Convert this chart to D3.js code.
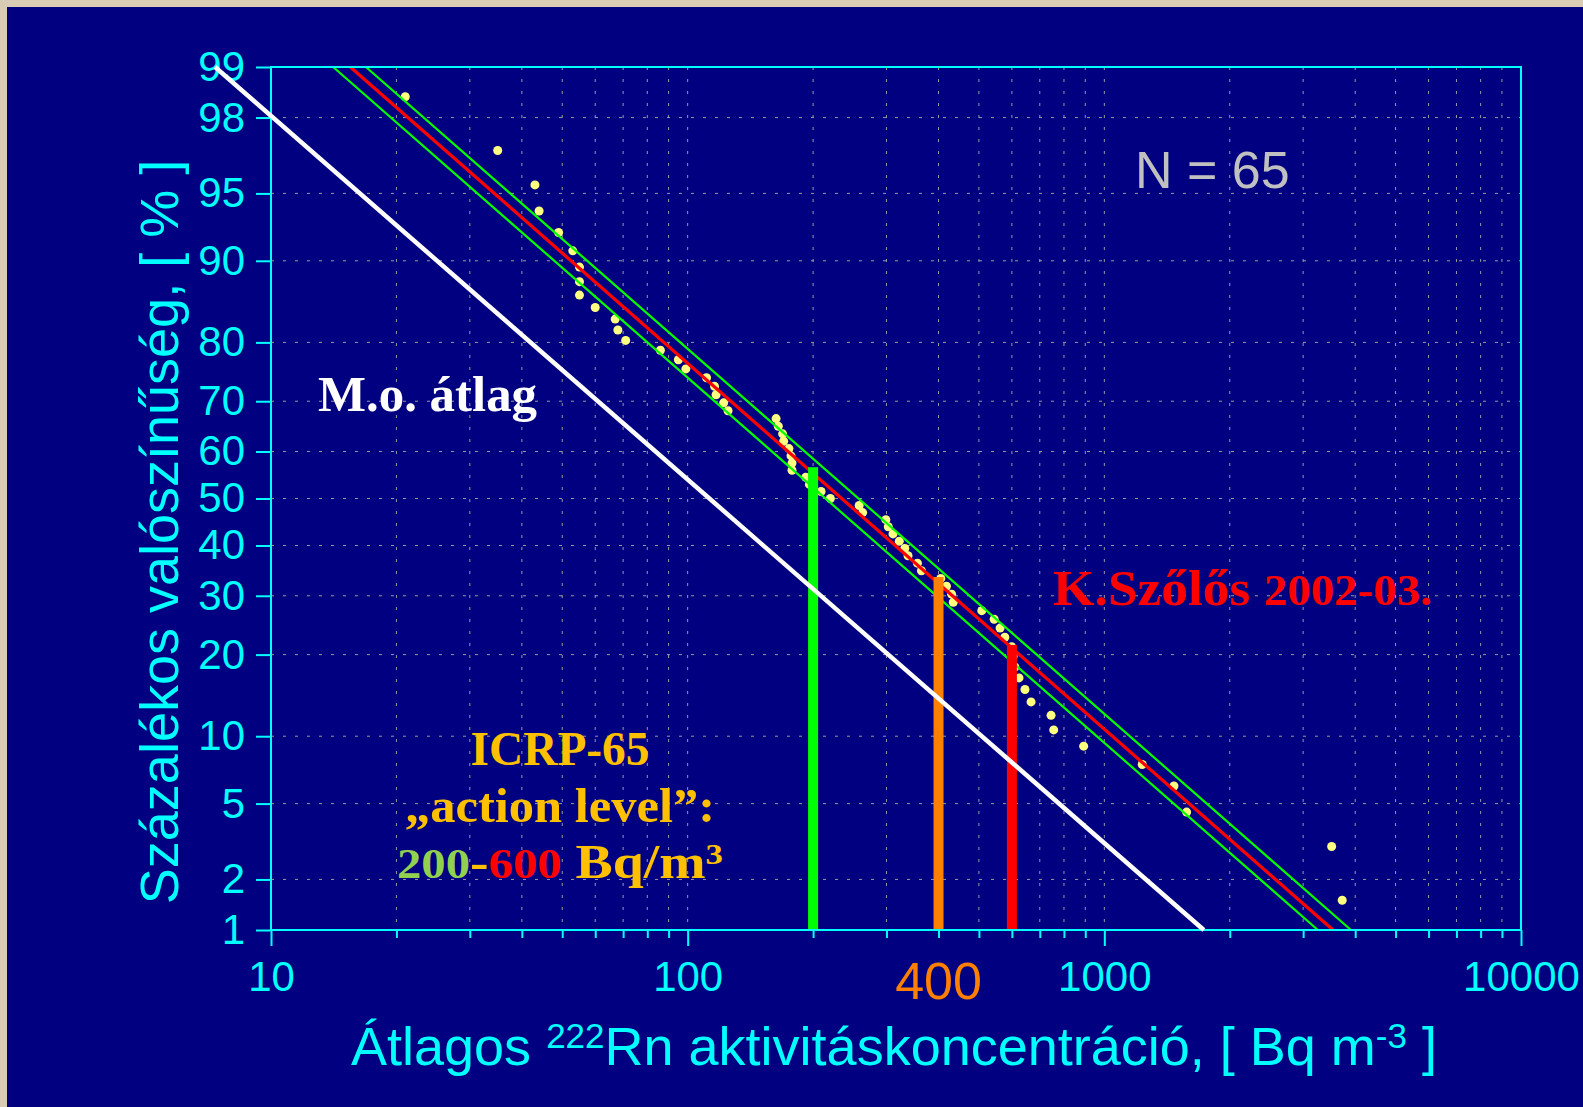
<!DOCTYPE html>
<html>
<head>
<meta charset="utf-8">
<script src="https://cdn.jsdelivr.net/npm/d3@7"></script>
<style>
  body { margin: 0; background: #d8cdb4; }
  svg { display: block; }
</style>
</head>
<body>
<svg id="chart" width="1583" height="1107"></svg>
<script>
// radon concentrations of the 65 homes, Bq/m3, sorted ascending
const radon = [21, 35, 43, 44, 49, 53, 55, 55, 55, 60, 67, 68, 71, 86, 95, 99,
  111, 116, 117, 122, 125, 163, 165, 169, 170, 175, 177, 178, 178, 192, 196,
  209, 220, 258, 263, 299, 303, 311, 322, 332, 338, 356, 364, 405, 418, 430,
  434, 508, 544, 562, 577, 599, 604, 610, 624, 645, 667, 745, 756, 892, 1233,
  1469, 1576, 3512, 3723]

// fitted lognormal lines, [concentration, percent]
const fitLine = [[15.5, 99], [3540, 1]]
const ciLow = [[14.1, 99], [3255, 1]]
const ciHigh = [[16.9, 99], [3908, 1]]
const national = [[7.34, 99], [1733, 1]]   // M.o. átlag

// ICRP-65 action levels and where the bars stop
const levels = [200, 400, 600]
const levelTops = [56.7, 33.6, 21.5]
const levelColors = ["#00ff00", "#ff8000", "#ff0000"]

const yTicks = [1, 2, 5, 10, 20, 30, 40, 50, 60, 70, 80, 90, 95, 98, 99]
const xMajor = [10, 100, 1000, 10000]
const xMinor = [20, 30, 40, 50, 60, 70, 80, 90, 200, 300, 400, 500, 600, 700, 800, 900,
  2000, 3000, 4000, 5000, 6000, 7000, 8000, 9000]

// inverse normal cdf (Acklam)
function probit(p) {
  const a = [-39.69683028665376, 220.9460984245205, -275.9285104469687, 138.3577518672690, -30.66479806614716, 2.506628277459239]
  const b = [-54.47609879822406, 161.5858368580409, -155.6989798598866, 66.80131188771972, -13.28068155288572]
  const c = [-0.007784894002430293, -0.3223964580411365, -2.400758277161838, -2.549732539343734, 4.374664141464968, 2.938163982698783]
  const d = [0.007784695709041462, 0.3224671290700398, 2.445134137142996, 3.754408661907416]
  const pl = 0.02425
  let q, r
  if (p < pl) {
    q = Math.sqrt(-2 * Math.log(p))
    return (((((c[0]*q+c[1])*q+c[2])*q+c[3])*q+c[4])*q+c[5]) / ((((d[0]*q+d[1])*q+d[2])*q+d[3])*q+1)
  }
  if (p > 1 - pl) {
    q = Math.sqrt(-2 * Math.log(1 - p))
    return -(((((c[0]*q+c[1])*q+c[2])*q+c[3])*q+c[4])*q+c[5]) / ((((d[0]*q+d[1])*q+d[2])*q+d[3])*q+1)
  }
  q = p - 0.5
  r = q * q
  return (((((a[0]*r+a[1])*r+a[2])*r+a[3])*r+a[4])*r+a[5])*q / (((((b[0]*r+b[1])*r+b[2])*r+b[3])*r+b[4])*r+1)
}

const plotLeft = 271, plotRight = 1521, plotTop = 67, plotBottom = 930
const CYAN = "#00ffff"
const SANS = "'Liberation Sans', Arial, sans-serif"
const SERIF = "'Liberation Serif', 'Times New Roman', serif"

const svg = d3.select("#chart")

svg.append("rect").attr("x", 7).attr("y", 7).attr("width", 1583).attr("height", 1107).attr("fill", "#000080")

const x = d3.scaleLog().domain([10, 10000]).range([plotLeft, plotRight])
const yz = d3.scaleLinear().domain([probit(0.01), probit(0.99)]).range([plotBottom, plotTop])
const y = p => yz(probit(p / 100))

// grid
const grid = svg.append("g").attr("stroke", "#9a9aa6").attr("stroke-width", 1).attr("stroke-dasharray", "3,9")
grid.selectAll(".gx")
    .data(xMinor.concat([100, 1000]))
    .enter()
    .append("line")
        .attr("x1", d => x(d)).attr("x2", d => x(d))
        .attr("y1", plotTop).attr("y2", plotBottom)
grid.selectAll(".gy")
    .data(yTicks.slice(1, -1))
    .enter()
    .append("line")
        .attr("x1", plotLeft).attr("x2", plotRight)
        .attr("y1", d => y(d)).attr("y2", d => y(d))

// measured points, Weibull plotting position k/(n+1), exceedance
const n = radon.length
svg.append("g")
    .selectAll("circle")
    .data(radon)
    .enter()
    .append("circle")
        .attr("cx", d => x(d))
        .attr("cy", (d, i) => y((n - i) / (n + 1) * 100))
        .attr("r", 4.5)
        .attr("fill", "#ffff80")

const line = d3.line().x(d => x(d[0])).y(d => y(d[1]))

svg.append("path").datum(ciLow).attr("d", line).attr("stroke", "#00ff00").attr("stroke-width", 2.2).attr("fill", "none")
svg.append("path").datum(ciHigh).attr("d", line).attr("stroke", "#00ff00").attr("stroke-width", 2.2).attr("fill", "none")
svg.append("path").datum(fitLine).attr("d", line).attr("stroke", "#ff0000").attr("stroke-width", 3.2).attr("fill", "none")

// action level bars
svg.append("g")
    .selectAll("rect")
    .data(levels)
    .enter()
    .append("rect")
        .attr("x", d => x(d) - 5)
        .attr("width", 10)
        .attr("y", (d, i) => y(levelTops[i]))
        .attr("height", (d, i) => plotBottom - y(levelTops[i]))
        .attr("fill", (d, i) => levelColors[i])

// axes
const yAxis = d3.axisLeft(yz)
    .tickValues(yTicks.map(p => probit(p / 100)))
    .tickFormat((d, i) => yTicks[i])
    .tickSize(15)
    .tickPadding(11)
const gy = svg.append("g").attr("transform", `translate(${plotLeft},0)`).call(yAxis)

const gxMinor = svg.append("g").attr("transform", `translate(0,${plotBottom})`)
    .call(d3.axisBottom(x).tickValues(xMinor).tickSize(8).tickFormat(""))
const gxMajor = svg.append("g").attr("transform", `translate(0,${plotBottom})`)
    .call(d3.axisBottom(x).tickValues(xMajor).tickSize(16).tickPadding(15).tickFormat(d3.format("d")))

for (const g of [gy, gxMinor, gxMajor]) {
    g.select(".domain").remove()
    g.selectAll(".tick line").attr("stroke", CYAN).attr("stroke-width", 2)
    g.selectAll(".tick text").attr("fill", CYAN).style("font-family", SANS).style("font-size", "42px")
}

svg.append("rect")
    .attr("x", plotLeft).attr("y", plotTop)
    .attr("width", plotRight - plotLeft).attr("height", plotBottom - plotTop)
    .attr("fill", "none").attr("stroke", CYAN).attr("stroke-width", 2)

// axis titles
svg.append("text")
    .attr("transform", "translate(178,532) rotate(-90)")
    .attr("text-anchor", "middle")
    .attr("fill", CYAN).style("font-family", SANS).style("font-size", "54px")
    .text("Százalékos valószínűség, [ % ]")

const xt = svg.append("text")
    .attr("x", 894).attr("y", 1065)
    .attr("text-anchor", "middle")
    .attr("fill", CYAN).style("font-family", SANS).style("font-size", "54px")
xt.append("tspan").text("Átlagos ")
xt.append("tspan").attr("dy", -17).style("font-size", "35px").text("222")
xt.append("tspan").attr("dy", 17).text("Rn aktivitáskoncentráció, [ Bq m")
xt.append("tspan").attr("dy", -17).style("font-size", "35px").text("-3")
xt.append("tspan").attr("dy", 17).text(" ]")

svg.append("text")
    .attr("x", x(400)).attr("y", 999)
    .attr("text-anchor", "middle")
    .attr("fill", "#ff8000").style("font-family", SANS).style("font-size", "52px")
    .text("400")

svg.append("text")
    .attr("x", 1135).attr("y", 188)
    .attr("fill", "#c0c0c0").style("font-family", SANS).style("font-size", "52px")
    .text("N = 65")

svg.append("text")
    .attr("x", 318).attr("y", 411)
    .attr("textLength", 219).attr("lengthAdjust", "spacingAndGlyphs")
    .attr("fill", "#ffffff").style("font-family", SERIF).style("font-weight", "bold").style("font-size", "50px")
    .text("M.o. átlag")

const ks = svg.append("text")
    .attr("x", 1053).attr("y", 605)
    .attr("textLength", 379).attr("lengthAdjust", "spacingAndGlyphs")
    .attr("fill", "#ff0000").style("font-family", SERIF).style("font-weight", "bold").style("font-size", "50px")
ks.append("tspan").text("K.Szőlős ")
ks.append("tspan").style("font-size", "44px").text("2002-03.")

const icrp = [["ICRP-65", 765, 179], ["„action level”:", 822, 310]]
icrp.forEach(([t, yy, w]) => {
    svg.append("text")
        .attr("x", 560).attr("y", yy)
        .attr("text-anchor", "middle")
        .attr("textLength", w).attr("lengthAdjust", "spacingAndGlyphs")
        .attr("fill", "#ffc000").style("font-family", SERIF).style("font-weight", "bold").style("font-size", "48px")
        .text(t)
})
const lv = svg.append("text")
    .attr("x", 560).attr("y", 878)
    .attr("text-anchor", "middle")
    .attr("textLength", 326).attr("lengthAdjust", "spacingAndGlyphs")
    .attr("fill", "#ffc000").style("font-family", SERIF).style("font-weight", "bold").style("font-size", "48px")
lv.append("tspan").attr("fill", "#92d050").style("font-size", "42px").text("200")
lv.append("tspan").attr("fill", "#ffc000").text("-")
lv.append("tspan").attr("fill", "#ff0000").style("font-size", "42px").text("600")
lv.append("tspan").text(" Bq/m")
lv.append("tspan").attr("dy", -14).style("font-size", "30px").text("3")

// national average line, drawn over everything
svg.append("path").datum(national).attr("d", line).attr("stroke", "#ffffff").attr("stroke-width", 4.5).attr("fill", "none")
</script>
</body>
</html>
